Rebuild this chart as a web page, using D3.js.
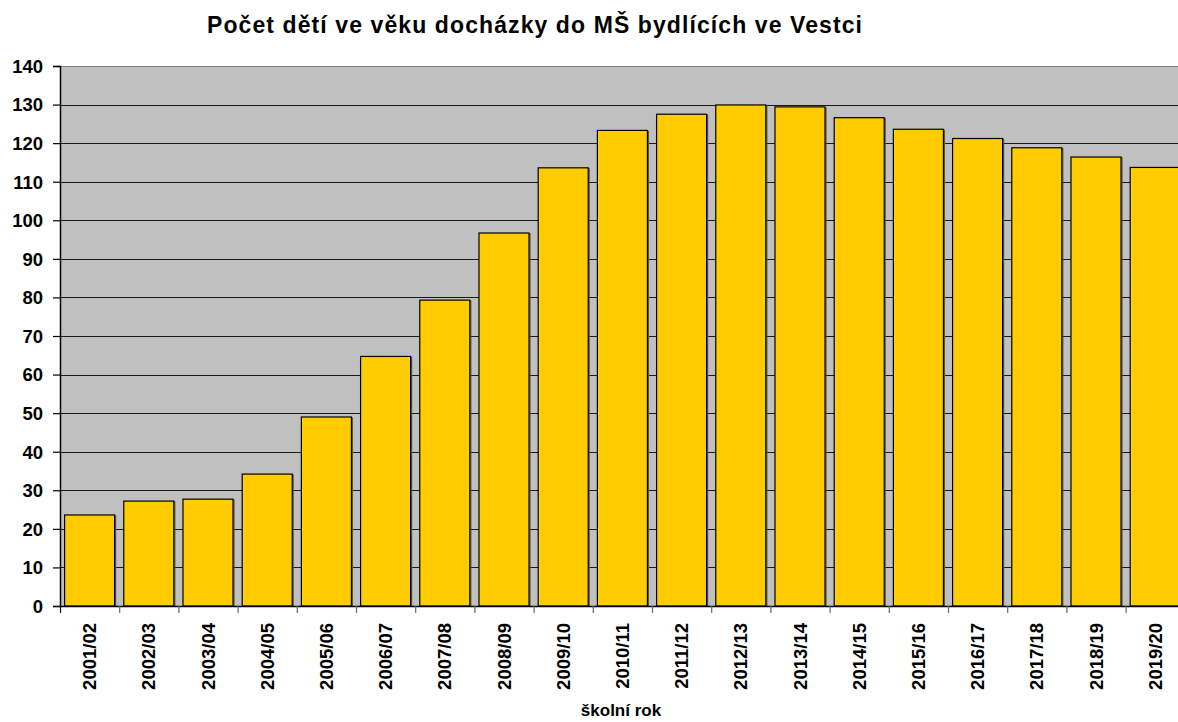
<!DOCTYPE html>
<html>
<head>
<meta charset="utf-8">
<script src="https://cdn.jsdelivr.net/npm/d3@7"></script>
<style>
html,body{margin:0;padding:0;background:#fff;overflow:hidden;}
text{font-family:"Liberation Sans",Arial,sans-serif;font-weight:bold;fill:#000;}
</style>
</head>
<body>
<svg id="chart" width="1178" height="722"></svg>
<script>
const categories = ["2001/02","2002/03","2003/04","2004/05","2005/06","2006/07","2007/08","2008/09","2009/10","2010/11","2011/12","2012/13","2013/14","2014/15","2015/16","2016/17","2017/18","2018/19","2019/20"];
const values = [23.6, 27.2, 27.7, 34.2, 49.0, 64.7, 79.3, 96.7, 113.6, 123.3, 127.5, 129.9, 129.4, 126.6, 123.6, 121.2, 118.8, 116.4, 113.7];
const yTicks = [0,10,20,30,40,50,60,70,80,90,100,110,120,130,140];
const title = "Počet dětí ve věku docházky do MŠ bydlících ve Vestci";
const xTitle = "školní rok";

const svg = d3.select("#chart");
const pLeft = 60, pTop = 66, pBottom = 606, pRight = 60 + 19 * 59.2;

const x = d3.scaleBand().domain(categories).range([pLeft, pRight]).paddingInner(0.155).paddingOuter(0.0775);
const xTickScale = d3.scaleBand().domain(categories).range([pLeft, pRight]);
const y = d3.scaleLinear().domain([0, 140]).range([pBottom, pTop]);

// plot background
svg.append("rect").attr("x", pLeft).attr("y", pTop).attr("width", pRight - pLeft).attr("height", pBottom - pTop).attr("fill", "#C0C0C0");

// gridlines
svg.append("g").selectAll("line").data(yTicks.filter(d => d > 0 && d < 140)).join("line")
  .attr("x1", pLeft).attr("x2", pRight)
  .attr("y1", d => Math.round(y(d)) + 0.5).attr("y2", d => Math.round(y(d)) + 0.5)
  .attr("stroke", "#1a1a1a").attr("stroke-width", 1.2);
// top border
svg.append("line").attr("x1", pLeft).attr("x2", pRight).attr("y1", Math.round(y(140)) + 0.5).attr("y2", Math.round(y(140)) + 0.5)
  .attr("stroke", "#808080").attr("stroke-width", 1);

// bars shadow
svg.append("g").selectAll("rect").data(values).join("rect")
  .attr("x", (d, i) => x(categories[i]) + 1)
  .attr("y", d => y(d) + 1)
  .attr("width", x.bandwidth())
  .attr("height", d => pBottom - y(d) - 1)
  .attr("fill", "none").attr("stroke", "#555").attr("stroke-width", 1.2);
// bars
svg.append("g").selectAll("rect").data(values).join("rect")
  .attr("x", (d, i) => x(categories[i]))
  .attr("y", d => y(d))
  .attr("width", x.bandwidth())
  .attr("height", d => pBottom - y(d))
  .attr("fill", "#FFCC00").attr("stroke", "#000").attr("stroke-width", 1.2);

// y axis
const yAxis = d3.axisLeft(y).tickValues(yTicks).tickSize(7).tickPadding(10).tickFormat(d3.format("d"));
const gy = svg.append("g").attr("transform", `translate(${pLeft},0)`).call(yAxis);
gy.select(".domain").attr("stroke", "#000").attr("stroke-width", 1.5);
gy.selectAll(".tick line").attr("stroke", "#000").attr("stroke-width", 1.2);
gy.selectAll(".tick text").attr("font-size", "18.5px").attr("font-family", "Liberation Sans, Arial, sans-serif").attr("font-weight", "bold").attr("fill", "#000").attr("dy", "0.34em");

// x axis
const xAxis = d3.axisBottom(xTickScale).tickSize(0).tickFormat("");
const gx = svg.append("g").attr("transform", `translate(0,${pBottom})`).call(xAxis);
gx.select(".domain").attr("stroke", "#000").attr("stroke-width", 1.5);
// tick marks at band boundaries
svg.append("g").selectAll("line").data(categories).join("line")
  .attr("x1", d => xTickScale(d) + 0.5).attr("x2", d => xTickScale(d) + 0.5)
  .attr("y1", pBottom).attr("y2", pBottom + 7)
  .attr("stroke", (d, i) => i === 0 ? "#000" : "#666").attr("stroke-width", 1.2);

// x labels rotated
svg.append("g").selectAll("text").data(categories).join("text")
  .attr("transform", d => `translate(${xTickScale(d) + xTickScale.bandwidth() / 2 + 6.5},${pBottom + 17}) rotate(-90)`)
  .attr("text-anchor", "end")
  .attr("font-size", "18.5px")
  .text(d => d);

// title
svg.append("text").attr("x", 207).attr("y", 33).attr("font-size", "23px")
  .attr("textLength", 655).attr("lengthAdjust", "spacing").text(title);
// x title
svg.append("text").attr("x", 621).attr("y", 716).attr("text-anchor", "middle").attr("font-size", "17px").text(xTitle);
</script>
</body>
</html>
